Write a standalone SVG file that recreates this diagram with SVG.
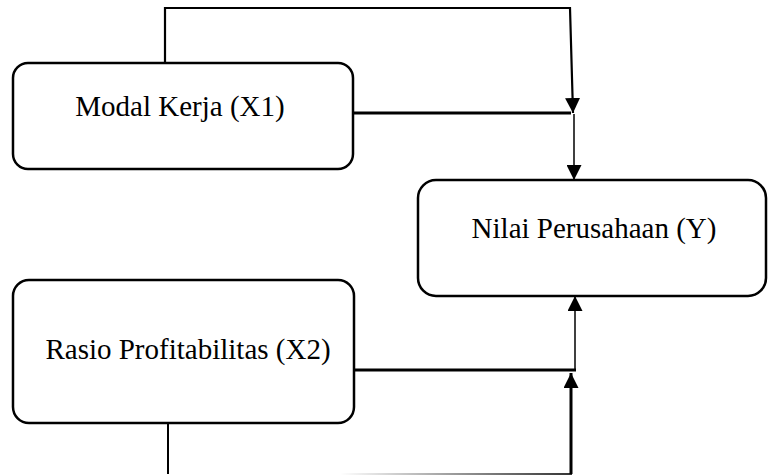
<svg xmlns="http://www.w3.org/2000/svg" width="768" height="475" viewBox="0 0 768 475">
<style>
.box{fill:#fff;stroke:#000;stroke-width:2.5}
.lbl{font-family:"Liberation Serif","Times New Roman",serif;font-size:29px;fill:#000;text-anchor:middle}
.c{fill:none;stroke:#000}
</style>
<defs>
<marker id="ah" viewBox="0 0 15 15" refX="15" refY="7.5" markerWidth="15" markerHeight="15" markerUnits="userSpaceOnUse" orient="auto">
<path d="M0,0 L15,7.5 L0,15 z" fill="#000"/>
</marker>
<linearGradient id="fade" x1="0" y1="0" x2="1" y2="0">
<stop offset="0" stop-color="#000" stop-opacity="0"/>
<stop offset="1" stop-color="#000" stop-opacity="0.8"/>
</linearGradient>
</defs>
<g id="connectors">
<path class="c" d="M165,63 V8 H570 L573,113" stroke-width="2.2" marker-end="url(#ah)"/>
<path class="c" d="M349,113 H571" stroke-width="3"/>
<path class="c" d="M574,114 L574,180" stroke-width="1.5" marker-end="url(#ah)"/>
<path class="c" d="M575,371 L575,296" stroke-width="1.5" marker-end="url(#ah)"/>
<path class="c" d="M354,370 H576" stroke-width="3"/>
<path class="c" d="M571,474 L571,373" stroke-width="3" marker-end="url(#ah)"/>
<path class="c" d="M168,423 V474" stroke-width="2"/>
<rect x="340" y="473" width="232" height="2" fill="url(#fade)"/>
</g>
<g id="node-x1">
<rect class="box" x="13" y="63" width="340" height="106" rx="15"/>
<text class="lbl" x="180" y="116">Modal Kerja (X1)</text>
</g>
<g id="node-y">
<rect class="box" x="418" y="180" width="348" height="116" rx="18"/>
<text class="lbl" x="594" y="238">Nilai Perusahaan (Y)</text>
</g>
<g id="node-x2">
<rect class="box" x="13" y="280" width="341" height="143" rx="16"/>
<text class="lbl" x="188" y="359">Rasio Profitabilitas (X2)</text>
</g>
</svg>
